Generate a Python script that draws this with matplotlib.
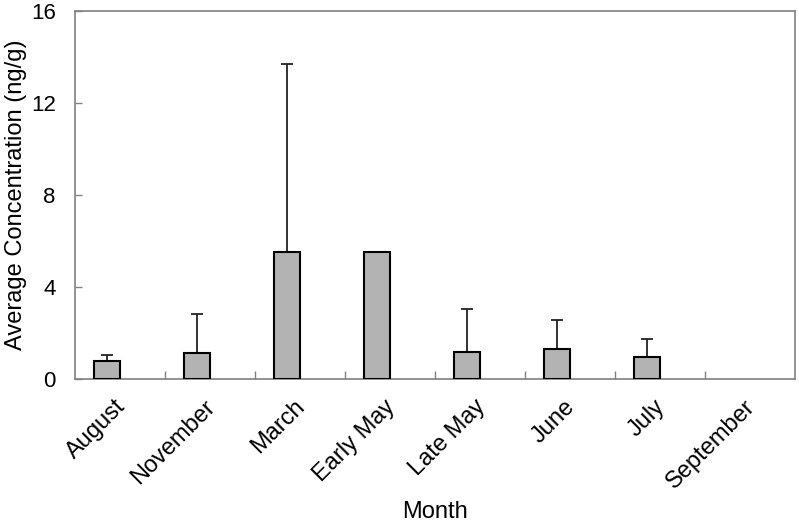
import numpy as np
import matplotlib
matplotlib.use("Agg")
from matplotlib import pyplot as plt
from matplotlib.transforms import ScaledTranslation

plt.rcParams['font.family'] = ['Liberation Sans', 'DejaVu Sans']

months = ["August", "November", "March", "Early May", "Late May", "June", "July", "September"]
mean_conc = [0.80, 1.14, 5.53, 5.53, 1.17, 1.29, 0.96, 0.0]
upper_err = [0.26, 1.70, 8.17, 0.0, 1.86, 1.29, 0.79, 0.0]

fig = plt.figure(figsize=(7.99, 5.23), dpi=100)
ax = fig.add_axes([0.094, 0.275, 0.901, 0.704])

x = np.arange(len(months))
width = 0.29
xb = x - width / 2
vals = np.array(mean_conc)
errs = np.array(upper_err)

has_bar = vals > 0
ax.bar(xb[has_bar], vals[has_bar], width, color="#b3b3b3", edgecolor="black",
       linewidth=1.5, zorder=3)

# only the upper half of the error bars, and only where there is one
has_err = errs > 0
ax.errorbar(xb[has_err], vals[has_err], yerr=[np.zeros(has_err.sum()), errs[has_err]],
            fmt="none", ecolor="#222222", elinewidth=1.3, capsize=4.5, capthick=1.3, zorder=2)

ax.set_xlim(-0.5, len(months) - 0.5)
ax.set_ylim(0, 16)
ax.set_yticks([0, 4, 8, 12, 16])
ax.set_xticks(x)
ax.set_xticklabels(months, rotation=45, ha="right", rotation_mode="anchor", fontsize=17)
ax.tick_params(axis="x", length=0, pad=12)
shift = ScaledTranslation(-6 / 100, 0, fig.dpi_scale_trans)
for lbl in ax.get_xticklabels():
    lbl.set_transform(lbl.get_transform() + shift)
ax.set_xticks(np.arange(0.5, len(months) - 0.5), minor=True)
ax.tick_params(axis="x", which="minor", direction="in", length=6, color="#808080", width=1)
ax.tick_params(axis="y", direction="in", length=5, color="#808080", width=1, labelsize=16, pad=14)

for s in ax.spines.values():
    s.set_color("#808080")
    s.set_linewidth(1.2)

ax.set_ylabel("Average Concentration (ng/g)", fontsize=17, labelpad=3)
ax.set_xlabel("Month", fontsize=17, labelpad=6)

fig.savefig("out.png", dpi=100)
